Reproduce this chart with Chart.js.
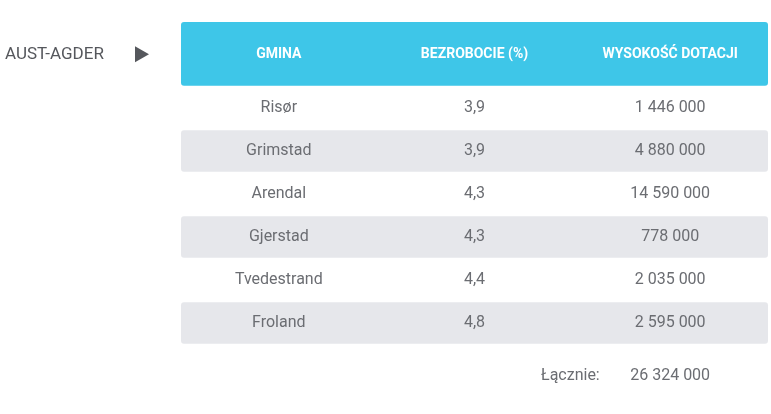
<!DOCTYPE html>
<html><head><meta charset="utf-8">
<script src="https://cdn.jsdelivr.net/npm/chart.js@4.4.1/dist/chart.umd.min.js"></script>
<style>html,body{margin:0;background:#fff;}#wrap{width:771px;height:414px;position:relative;}</style>
</head><body><div id="wrap"><canvas id="c"></canvas></div>
<script>
// Tabela dotacji — Aust-Agder
const region = 'AUST-AGDER';
const headers = ['GMINA', 'BEZROBOCIE (%)', 'WYSOKOŚĆ DOTACJI'];
const gminy = ['Risør', 'Grimstad', 'Arendal', 'Gjerstad', 'Tvedestrand', 'Froland'];
const bezrobocie = ['3,9', '3,9', '4,3', '4,3', '4,4', '4,8'];
const dotacje = ['1 446 000', '4 880 000', '14 590 000', '778 000', '2 035 000', '2 595 000'];
const totalLabel = 'Łącznie:';
const totalValue = '26 324 000';

const FONT = 'Roboto, "Open Sans", sans-serif';

const tablePlugin = {
    id: 'table',
    afterDraw(chart) {
        const { ctx, scales: { x, y } } = chart;
        const L = x.getPixelForValue(0), R = x.getPixelForValue(3);
        const rect = (y0, y1, color) => {
            const t = y.getPixelForValue(y0), b = y.getPixelForValue(y1);
            ctx.fillStyle = color;
            ctx.beginPath();
            ctx.roundRect(L, t, R - L, b - t, 3);
            ctx.fill();
        };
        ctx.save();
        rect(-1.5, -0.02, '#3ec6e8');
        gminy.forEach((g, i) => { if (i % 2 === 1) rect(i + 0.02, i + 0.98, '#e6e7eb'); });

        ctx.textAlign = 'center';
        ctx.textBaseline = 'middle';
        ctx.fillStyle = '#ffffff';
        ctx.font = `bold 14px ${FONT}`;
        headers.forEach((h, c) => ctx.fillText(h, x.getPixelForValue(c + 0.5), y.getPixelForValue(-0.75)));

        ctx.fillStyle = '#6b6d72';
        ctx.font = `16px ${FONT}`;
        gminy.forEach((g, i) => {
            const py = y.getPixelForValue(i + 0.5);
            ctx.fillText(g, x.getPixelForValue(0.5), py);
            ctx.fillText(bezrobocie[i], x.getPixelForValue(1.5), py);
            ctx.fillText(dotacje[i], x.getPixelForValue(2.5), py);
        });
        const ty = y.getPixelForValue(6.74);
        ctx.fillText(totalLabel, x.getPixelForValue(1.99), ty);
        ctx.fillText(totalValue, x.getPixelForValue(2.5), ty);

        // etykieta regionu po lewej
        const ry = y.getPixelForValue(-0.75);
        ctx.textAlign = 'left';
        ctx.fillStyle = '#55575c';
        ctx.font = `17px ${FONT}`;
        ctx.fillText(region, 5, ry);
        ctx.beginPath();
        ctx.moveTo(135, ry - 8); ctx.lineTo(149, ry); ctx.lineTo(135, ry + 8);
        ctx.closePath();
        ctx.fill();
        ctx.restore();
    }
};

new Chart(document.getElementById('c'), {
    type: 'scatter',
    data: { datasets: [{ data: [], showLine: false }] },
    options: {
        responsive: true, maintainAspectRatio: false, animation: false,
        layout: { padding: { left: 181, right: 3, top: 22, bottom: 5 } },
        plugins: { legend: { display: false }, tooltip: { enabled: false } },
        scales: {
            x: { type: 'linear', min: 0, max: 3, display: false },
            y: { type: 'linear', min: -1.5, max: 7.5, reverse: true, display: false },
        },
    },
    plugins: [tablePlugin],
});
</script></body></html>
